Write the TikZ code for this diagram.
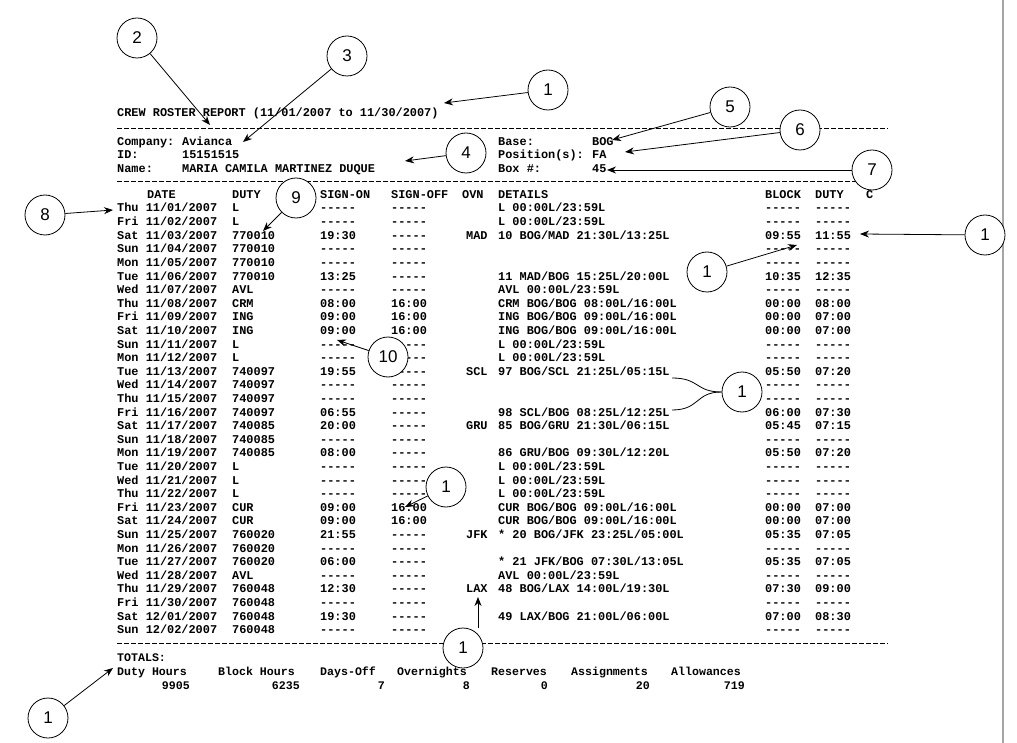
\documentclass[tikz,border=0pt]{standalone}
\usepackage{fontspec}
\setmainfont{Liberation Sans}
\newfontfamily\rostermono{Liberation Mono}
\usetikzlibrary{arrows.meta}
\tikzset{
  txt/.style={anchor=base west, inner sep=0pt, font=\rostermono\bfseries\fontsize{11.9}{12}\selectfont},
  tot/.style={anchor=base west, inner sep=0pt, font=\rostermono\bfseries\fontsize{11.6}{12}\selectfont},
  totr/.style={tot, anchor=base east},
  callout/.style={circle, draw, thick, fill=white, minimum size=40pt, inner sep=0pt, font=\fontsize{17}{17}\selectfont},
  pointer/.style={thick, -{Stealth[length=9pt,width=7pt]}},
  rule/.style={thick, dash pattern=on 5pt off 2pt}
}
\newcommand{\rosterrow}[9]{%
  \node[txt] at (117,#1) {#2};
  \node[txt] at (232,#1) {#3};
  \node[txt] at (320,#1) {#4};
  \node[txt] at (391,#1) {#5};
  \node[txt] at (466,#1) {#6};
  \node[txt] at (498,#1) {#7};
  \node[txt] at (765,#1) {#8};
  \node[txt] at (815,#1) {#9};
}
\begin{document}
\begin{tikzpicture}[x=1pt,y=-1pt]
\useasboundingbox (0,0) rectangle (1017,743);
\draw[gray!70, line width=1.5pt] (1003,0) -- (1003,743);
% header
\node[txt] at (117,117) {CREW ROSTER REPORT (11/01/2007 to 11/30/2007)};
\draw[rule] (117,128) -- (888,128);
\node[txt] at (117,146) {Company:}; \node[txt] at (182,146) {Avianca};
\node[txt] at (117,159) {ID:}; \node[txt] at (182,159) {15151515};
\node[txt] at (117,173) {Name:}; \node[txt] at (182,173) {MARIA CAMILA MARTINEZ DUQUE};
\node[txt] at (498,146) {Base:}; \node[txt] at (592,146) {BOG};
\node[txt] at (498,159) {Position(s):}; \node[txt] at (592,159) {FA};
\node[txt] at (498,173) {Box \#:}; \node[txt] at (592,173) {45};
\draw[rule] (117,181) -- (888,181);
\node[txt] at (147,199) {DATE}; \node[txt] at (232,199) {DUTY};
\node[txt] at (320,199) {SIGN-ON}; \node[txt] at (391,199) {SIGN-OFF};
\node[txt] at (462,199) {OVN}; \node[txt] at (498,199) {DETAILS};
\node[txt] at (765,199) {BLOCK}; \node[txt] at (815,199) {DUTY}; \node[txt] at (866,199) {C};
% rows
\rosterrow{212.0}{Thu 11/01/2007}{L}{-----}{-----}{}{L 00:00L/23:59L}{-----}{-----}
\rosterrow{225.6}{Fri 11/02/2007}{L}{-----}{-----}{}{L 00:00L/23:59L}{-----}{-----}
\rosterrow{239.2}{Sat 11/03/2007}{770010}{19:30}{-----}{MAD}{10 BOG/MAD 21:30L/13:25L}{09:55}{11:55}
\rosterrow{252.8}{Sun 11/04/2007}{770010}{-----}{-----}{}{}{-----}{-----}
\rosterrow{266.4}{Mon 11/05/2007}{770010}{-----}{-----}{}{}{-----}{-----}
\rosterrow{280.0}{Tue 11/06/2007}{770010}{13:25}{-----}{}{11 MAD/BOG 15:25L/20:00L}{10:35}{12:35}
\rosterrow{293.6}{Wed 11/07/2007}{AVL}{-----}{-----}{}{AVL 00:00L/23:59L}{-----}{-----}
\rosterrow{307.2}{Thu 11/08/2007}{CRM}{08:00}{16:00}{}{CRM BOG/BOG 08:00L/16:00L}{00:00}{08:00}
\rosterrow{320.8}{Fri 11/09/2007}{ING}{09:00}{16:00}{}{ING BOG/BOG 09:00L/16:00L}{00:00}{07:00}
\rosterrow{334.4}{Sat 11/10/2007}{ING}{09:00}{16:00}{}{ING BOG/BOG 09:00L/16:00L}{00:00}{07:00}
\rosterrow{348.0}{Sun 11/11/2007}{L}{-----}{-----}{}{L 00:00L/23:59L}{-----}{-----}
\rosterrow{361.6}{Mon 11/12/2007}{L}{-----}{-----}{}{L 00:00L/23:59L}{-----}{-----}
\rosterrow{375.2}{Tue 11/13/2007}{740097}{19:55}{-----}{SCL}{97 BOG/SCL 21:25L/05:15L}{05:50}{07:20}
\rosterrow{388.8}{Wed 11/14/2007}{740097}{-----}{-----}{}{}{-----}{-----}
\rosterrow{402.4}{Thu 11/15/2007}{740097}{-----}{-----}{}{}{-----}{-----}
\rosterrow{416.0}{Fri 11/16/2007}{740097}{06:55}{-----}{}{98 SCL/BOG 08:25L/12:25L}{06:00}{07:30}
\rosterrow{429.6}{Sat 11/17/2007}{740085}{20:00}{-----}{GRU}{85 BOG/GRU 21:30L/06:15L}{05:45}{07:15}
\rosterrow{443.2}{Sun 11/18/2007}{740085}{-----}{-----}{}{}{-----}{-----}
\rosterrow{456.8}{Mon 11/19/2007}{740085}{08:00}{-----}{}{86 GRU/BOG 09:30L/12:20L}{05:50}{07:20}
\rosterrow{470.4}{Tue 11/20/2007}{L}{-----}{-----}{}{L 00:00L/23:59L}{-----}{-----}
\rosterrow{484.0}{Wed 11/21/2007}{L}{-----}{-----}{}{L 00:00L/23:59L}{-----}{-----}
\rosterrow{497.6}{Thu 11/22/2007}{L}{-----}{-----}{}{L 00:00L/23:59L}{-----}{-----}
\rosterrow{511.2}{Fri 11/23/2007}{CUR}{09:00}{16:00}{}{CUR BOG/BOG 09:00L/16:00L}{00:00}{07:00}
\rosterrow{524.8}{Sat 11/24/2007}{CUR}{09:00}{16:00}{}{CUR BOG/BOG 09:00L/16:00L}{00:00}{07:00}
\rosterrow{538.4}{Sun 11/25/2007}{760020}{21:55}{-----}{JFK}{* 20 BOG/JFK 23:25L/05:00L}{05:35}{07:05}
\rosterrow{552.0}{Mon 11/26/2007}{760020}{-----}{-----}{}{}{-----}{-----}
\rosterrow{565.6}{Tue 11/27/2007}{760020}{06:00}{-----}{}{* 21 JFK/BOG 07:30L/13:05L}{05:35}{07:05}
\rosterrow{579.2}{Wed 11/28/2007}{AVL}{-----}{-----}{}{AVL 00:00L/23:59L}{-----}{-----}
\rosterrow{592.8}{Thu 11/29/2007}{760048}{12:30}{-----}{LAX}{48 BOG/LAX 14:00L/19:30L}{07:30}{09:00}
\rosterrow{606.4}{Fri 11/30/2007}{760048}{-----}{-----}{}{}{-----}{-----}
\rosterrow{620.0}{Sat 12/01/2007}{760048}{19:30}{-----}{}{49 LAX/BOG 21:00L/06:00L}{07:00}{08:30}
\rosterrow{633.6}{Sun 12/02/2007}{760048}{-----}{-----}{}{}{-----}{-----}
\draw[rule] (117,643) -- (888,643);
% totals
\node[tot] at (117,661) {TOTALS:};
\node[tot] at (117,675) {Duty Hours}; \node[tot] at (218,675) {Block Hours};
\node[tot] at (320,675) {Days-Off}; \node[tot] at (397,675) {Overnights};
\node[tot] at (491,675) {Reserves}; \node[tot] at (571,675) {Assignments};
\node[tot] at (671,675) {Allowances};
\node[totr] at (190,689) {9905}; \node[totr] at (300,689) {6235};
\node[totr] at (385,689) {7}; \node[totr] at (470,689) {8};
\node[totr] at (548,689) {0}; \node[totr] at (650,689) {20};
\node[totr] at (745,689) {719};
% callouts
\node[callout] (c1) at (548,90) {1};
\node[callout] (c2) at (137,38) {2};
\node[callout] (c3) at (347,56) {3};
\node[callout] (c4) at (466,153) {4};
\node[callout] (c5) at (730,107) {5};
\node[callout] (c6) at (800,130) {6};
\node[callout] (c7) at (872,170) {7};
\node[callout] (c8) at (45,215) {8};
\node[callout] (c9) at (296,198) {9};
\node[callout] (c1b) at (985,235) {1};
\node[callout] (c1c) at (707,272) {1};
\node[callout] (c10) at (388,357) {10};
\node[callout] (c1d) at (742,392) {1};
\node[callout] (c1e) at (446,487) {1};
\node[callout] (c1f) at (463,648) {1};
\node[callout] (c1g) at (48,718) {1};
\coordinate (t1) at (444,103);
\coordinate (t2) at (210,125);
\coordinate (t3) at (243,142);
\coordinate (t4) at (405,161);
\coordinate (t5) at (612,140);
\coordinate (t6) at (625,152);
\coordinate (t7) at (607,170);
\coordinate (t8) at (113,210);
\coordinate (t9) at (263,231);
\coordinate (t1b) at (860,234);
\coordinate (t1c) at (797,245);
\coordinate (t10) at (337,340);
\coordinate (t1e) at (405,507);
\coordinate (t1f) at (478,597);
\coordinate (t1g) at (113,668);
\draw[pointer] (c1) -- (t1);
\draw[pointer] (c2) -- (t2);
\draw[pointer] (c3) -- (t3);
\draw[pointer] (c4) -- (t4);
\draw[pointer] (c5) -- (t5);
\draw[pointer] (c6) -- (t6);
\draw[pointer] (c7) -- (t7);
\draw[pointer] (c8) -- (t8);
\draw[pointer] (c9) -- (t9);
\draw[pointer] (c1b) -- (t1b);
\draw[pointer] (c1c) -- (t1c);
\draw[pointer] (c10) -- (t10);
\draw[pointer] (c1e) -- (t1e);
\draw[pointer] (478,628) -- (t1f);
\draw[pointer] (c1g) -- (t1g);
% bracket
\draw[thick] (672,378) .. controls (700,378) and (695,392) .. (c1d.west);
\draw[thick] (672,410) .. controls (700,410) and (695,392) .. (c1d.west);
\end{tikzpicture}
\end{document}
